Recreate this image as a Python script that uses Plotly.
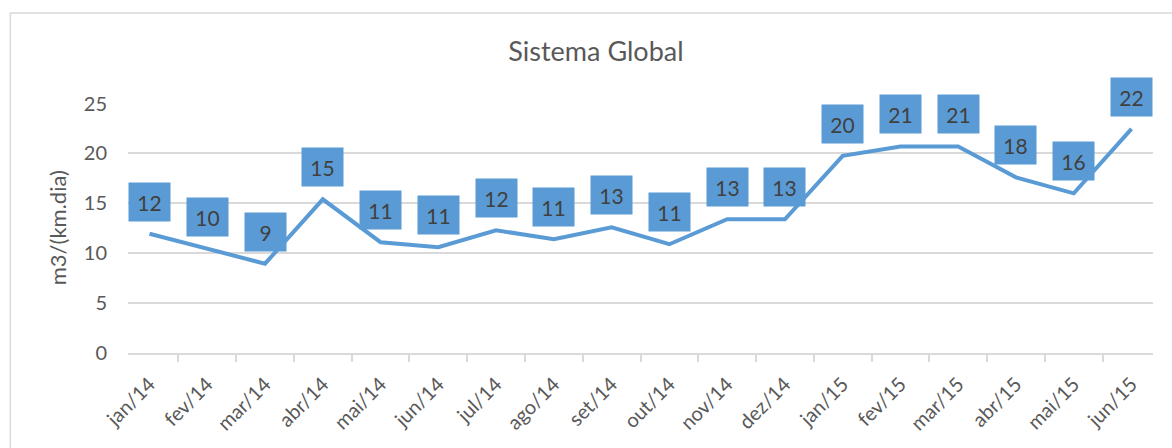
import plotly.graph_objects as go

meses = ["jan/14", "fev/14", "mar/14", "abr/14", "mai/14", "jun/14", "jul/14", "ago/14",
         "set/14", "out/14", "nov/14", "dez/14", "jan/15", "fev/15", "mar/15", "abr/15",
         "mai/15", "jun/15"]
valores = [11.95, 10.4, 8.95, 15.4, 11.1, 10.6, 12.3, 11.4, 12.6, 10.9, 13.4, 13.4,
           19.76, 20.7, 20.7, 17.6, 16.0, 22.46]
y_ticks = [0, 5, 10, 15, 20, 25]

AZUL = "#5B9BD5"
CINZA = "#D9D9D9"
TEXTO = "#595959"
FONTE = "Lato, Open Sans, sans-serif"

fig = go.Figure(go.Scatter(
    x=meses, y=valores, mode="lines",
    line=dict(color=AZUL, width=4),
    hoverinfo="x+y", showlegend=False))

# rótulos de dados em caixas azuis acima de cada ponto
for m, v in zip(meses, valores):
    fig.add_annotation(x=m, y=v, text=f"{v:.0f}", showarrow=False,
                       xanchor="center", yanchor="middle", yshift=32,
                       bgcolor=AZUL, width=37, height=34, borderpad=2,
                       font=dict(family=FONTE, size=21, color="#404040"))

# título do eixo y
fig.add_annotation(text="m3/(km.dia)", xref="paper", yref="paper", x=-0.069, y=0.5,
                   textangle=-90, showarrow=False, xanchor="center", yanchor="middle",
                   font=dict(family=FONTE, size=22, color=TEXTO))

# borda da área do gráfico
fig.add_shape(type="rect", xref="paper", yref="paper", x0=-0.1148, x1=1.05,
              y0=-0.6, y1=1.3604, line=dict(color=CINZA, width=1.5), layer="below")

fig.update_xaxes(type="category", showgrid=False, showline=True, linecolor=CINZA,
                 linewidth=1.5, ticks="outside", tickson="boundaries", ticklen=7,
                 tickcolor=CINZA, tickwidth=1.5, tickangle=-45, automargin=False,
                 ticklabelstandoff=10,
                 tickfont=dict(family=FONTE, size=20, color=TEXTO))
fig.update_yaxes(range=[0, 25.05], tickvals=y_ticks, showgrid=True, gridcolor=CINZA,
                 gridwidth=1.5, zeroline=False, showline=False, automargin=False,
                 ticklabelstandoff=20,
                 tickfont=dict(family=FONTE, size=20, color=TEXTO))

fig.update_layout(
    width=1172, height=448,
    margin=dict(l=128, r=19, t=103, b=95),
    paper_bgcolor="white", plot_bgcolor="white",
    title=dict(text="Sistema Global", x=0.5085, xanchor="center",
               y=1 - 52 / 448, yanchor="middle",
               font=dict(family=FONTE, size=27, color=TEXTO)),
)

fig.write_html("out.html", config={"displayModeBar": False},
               post_script="document.body.style.margin='0';")
